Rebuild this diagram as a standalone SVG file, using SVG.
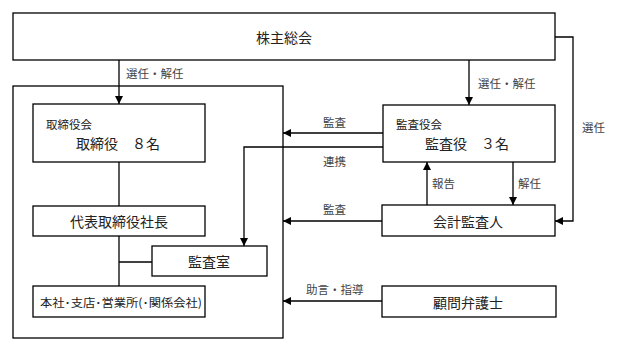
<svg xmlns="http://www.w3.org/2000/svg" width="622" height="352" viewBox="0 0 622 352">
<defs>
<marker id="ah" viewBox="0 0 10 10" refX="10" refY="5" markerWidth="8" markerHeight="8" markerUnits="userSpaceOnUse" orient="auto">
<path d="M0,0 L10,5 L0,10 z" fill="#000"/>
</marker>
</defs>
<style>
.box{fill:#fff;stroke:#000;stroke-width:1.3}
.frame{fill:none;stroke:#000;stroke-width:1.3}
.ln{fill:none;stroke:#000;stroke-width:1.3}
.ar{fill:none;stroke:#000;stroke-width:1.3;marker-end:url(#ah)}
text{font-family:"Noto Sans CJK JP","Liberation Serif",serif;fill:#222}
.big{font-size:14px;text-anchor:middle;dominant-baseline:central}
.sm{font-size:11.5px;dominant-baseline:central}
.lbl{font-size:11.5px;fill:#444;dominant-baseline:central}
</style>
<rect width="622" height="352" fill="#fff"/>
<g id="company"><rect class="frame" x="13" y="86" width="270" height="252"/></g>
<g id="connectors">
<line class="ar" x1="119" y1="60" x2="119" y2="104"/>
<line class="ar" x1="469" y1="60" x2="469" y2="105"/>
<polyline class="ar" points="555,37 573,37 573,221 555,221"/>
<line class="ln" x1="119" y1="162" x2="119" y2="206"/>
<polyline class="ln" points="119,236 119,286"/>
<line class="ln" x1="119" y1="262" x2="152" y2="262"/>
<line class="ar" x1="383" y1="133" x2="283" y2="133"/>
<polyline class="ar" points="383,147 244,147 244,246"/>
<line class="ar" x1="427" y1="205" x2="427" y2="162"/>
<line class="ar" x1="513" y1="162" x2="513" y2="205"/>
<line class="ar" x1="382" y1="221" x2="283" y2="221"/>
<line class="ar" x1="382" y1="301" x2="283" y2="301"/>
<text class="lbl" x="126" y="73">選任・解任</text>
<text class="lbl" x="478" y="83">選任・解任</text>
<text class="lbl" x="582" y="127">選任</text>
<text class="lbl" x="323" y="122">監査</text>
<text class="lbl" x="323" y="161">連携</text>
<text class="lbl" x="432" y="183">報告</text>
<text class="lbl" x="518" y="183">解任</text>
<text class="lbl" x="323" y="209">監査</text>
<text class="lbl" x="306" y="289">助言・指導</text>
</g>
<g id="shareholders"><rect class="box" x="13" y="13" width="542" height="47"/><text class="big" x="284" y="37">株主総会</text></g>
<g id="board"><rect class="box" x="33" y="104" width="172" height="58"/><text class="sm" x="46" y="124">取締役会</text><text class="big" x="118" y="143">取締役　８名</text></g>
<g id="president"><rect class="box" x="33" y="206" width="172" height="30"/><text class="big" x="119" y="221">代表取締役社長</text></g>
<g id="audit-office"><rect class="box" x="152" y="246" width="115" height="30"/><text class="big" x="209" y="261">監査室</text></g>
<g id="branches"><rect class="box" x="33" y="286" width="172" height="31"/><text class="sm" x="121" y="302" text-anchor="middle" textLength="162" lengthAdjust="spacingAndGlyphs">本社･支店･営業所(･関係会社)</text></g>
<g id="auditors"><rect class="box" x="383" y="105" width="172" height="57"/><text class="sm" x="396" y="124">監査役会</text><text class="big" x="467" y="143">監査役　３名</text></g>
<g id="accounting-auditor"><rect class="box" x="382" y="205" width="173" height="31"/><text class="big" x="468" y="221">会計監査人</text></g>
<g id="lawyer"><rect class="box" x="382" y="286" width="174" height="31"/><text class="big" x="468" y="302">顧問弁護士</text></g>
</svg>
